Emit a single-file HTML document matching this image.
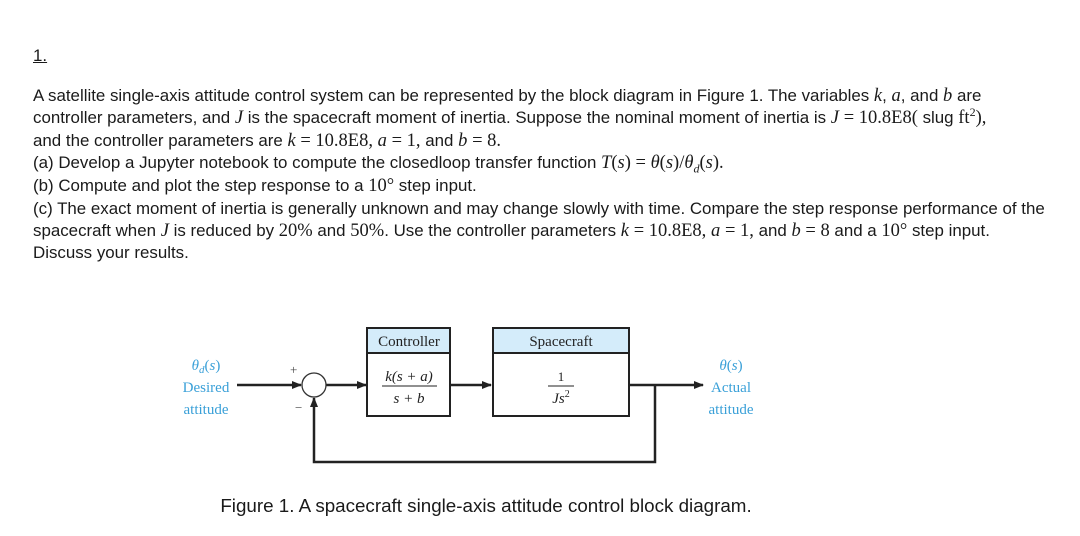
<!DOCTYPE html>
<html><head><meta charset="utf-8"><style>
body{margin:0;width:1080px;height:536px;background:#fff;overflow:hidden;font-family:"Liberation Sans",sans-serif;color:#1a1a1a}
.l{position:absolute;left:33px;font-size:16.9px;white-space:nowrap;line-height:20px;height:20px}
.m{font-family:"Liberation Serif",serif;font-size:18.5px}
sup,sub{line-height:0}
</style></head><body>
<div class="l" style="top:46px;text-decoration:underline">1.</div>
<div class="l" style="top:86px">A satellite single-axis attitude control system can be represented by the block diagram in Figure 1. The variables <i class="m">k</i>, <i class="m">a</i>, and <i class="m">b</i> are</div>
<div class="l" style="top:108px">controller parameters, and <i class="m">J</i> is the spacecraft moment of inertia. Suppose the nominal moment of inertia is <i class="m">J</i> <span class="m">= 10.8E8(</span> slug <span class="m">ft<sup style="font-size:12px">2</sup>),</span></div>
<div class="l" style="top:131px">and the controller parameters are <i class="m">k</i> <span class="m">= 10.8E8,</span> <i class="m">a</i> <span class="m">= 1,</span> and <i class="m">b</i> <span class="m">= 8.</span></div>
<div class="l" style="top:153px">(a) Develop a Jupyter notebook to compute the closedloop transfer function <i class="m">T</i><span class="m">(<i>s</i>) = <i>θ</i>(<i>s</i>)/<i>θ<sub style="font-size:12px">d</sub></i>(<i>s</i>).</span></div>
<div class="l" style="top:176px">(b) Compute and plot the step response to a <span class="m">10°</span> step input.</div>
<div class="l" style="top:199px">(c) The exact moment of inertia is generally unknown and may change slowly with time. Compare the step response performance of the</div>
<div class="l" style="top:221px">spacecraft when <i class="m">J</i> is reduced by <span class="m">20%</span> and <span class="m">50%</span>. Use the controller parameters <i class="m">k</i> <span class="m">= 10.8E8,</span> <i class="m">a</i> <span class="m">= 1,</span> and <i class="m">b</i> <span class="m">= 8</span> and a <span class="m">10°</span> step input.</div>
<div class="l" style="top:243px">Discuss your results.</div>
<svg style="position:absolute;left:0;top:0" width="1080" height="536" font-family="Liberation Serif,serif">
<defs><marker id="a" markerWidth="10" markerHeight="8" refX="9" refY="4" orient="auto" markerUnits="userSpaceOnUse"><path d="M0,0L10,4L0,8z" fill="#222"/></marker></defs>
<g fill="#3aa0d8" font-size="15" text-anchor="middle">
<text x="206" y="370"><tspan font-style="italic">θ</tspan><tspan font-size="11" font-style="italic" dy="3">d</tspan><tspan dy="-3">(</tspan><tspan font-style="italic">s</tspan>)</text>
<text x="206" y="392">Desired</text><text x="206" y="414">attitude</text>
<text x="731" y="370"><tspan font-style="italic">θ</tspan>(<tspan font-style="italic">s</tspan>)</text>
<text x="731" y="392">Actual</text><text x="731" y="414">attitude</text>
</g>
<g stroke="#222" stroke-width="2.5" fill="none">
<line x1="237" y1="385" x2="301" y2="385" marker-end="url(#a)"/>
<line x1="326" y1="385" x2="366" y2="385" marker-end="url(#a)"/>
<line x1="451" y1="385" x2="491" y2="385" marker-end="url(#a)"/>
<line x1="630" y1="385" x2="703" y2="385" marker-end="url(#a)"/>
<polyline points="655,385 655,462 314,462 314,398" marker-end="url(#a)"/>
</g>
<circle cx="314" cy="385" r="12" fill="#fff" stroke="#333" stroke-width="1.3"/>
<text x="290" y="374" font-size="13" fill="#444">+</text>
<text x="295" y="412" font-size="13" fill="#444">−</text>
<rect x="367" y="328" width="83" height="25" fill="#d4ecfa" stroke="#222" stroke-width="2"/>
<rect x="367" y="353" width="83" height="63" fill="#fff" stroke="#222" stroke-width="2"/>
<rect x="493" y="328" width="136" height="25" fill="#d4ecfa" stroke="#222" stroke-width="2"/>
<rect x="493" y="353" width="136" height="63" fill="#fff" stroke="#222" stroke-width="2"/>
<g font-size="15" text-anchor="middle" fill="#222">
<text x="409" y="346">Controller</text><text x="561" y="346">Spacecraft</text>
<text x="409" y="381" font-style="italic">k(s + a)</text>
<line x1="382" y1="386" x2="437" y2="386" stroke="#222" stroke-width="1"/>
<text x="409" y="403" font-style="italic">s + b</text>
<text x="561" y="381" font-size="13">1</text>
<line x1="548" y1="386" x2="574" y2="386" stroke="#222" stroke-width="1"/>
<text x="561" y="403" font-style="italic">Js<tspan font-size="10" dy="-6" font-style="normal">2</tspan></text>
</g>
<text x="486" y="512" font-family="Liberation Sans,sans-serif" font-size="18.8" text-anchor="middle" fill="#1a1a1a">Figure 1. A spacecraft single-axis attitude control block diagram.</text>
</svg>
</body></html>
